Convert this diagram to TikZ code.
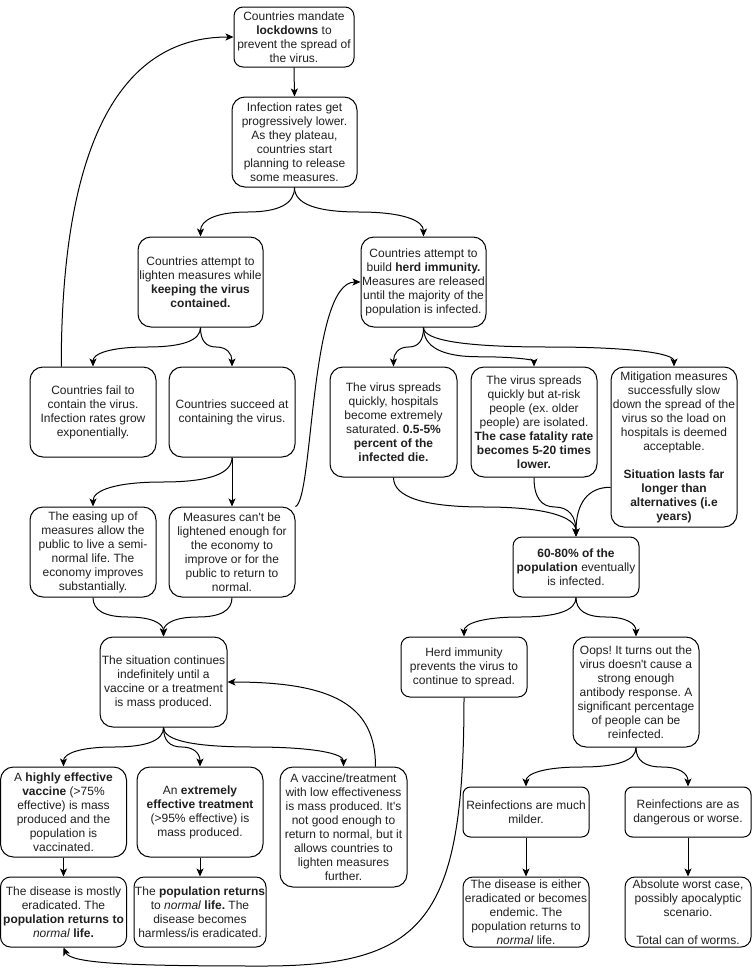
\documentclass[tikz,border=0pt]{standalone}
\usepackage{fontspec}
\setmainfont{Liberation Sans}[Ligatures=TeXOff]
\usetikzlibrary{arrows.meta,calc}
\frenchspacing
\begin{document}
\begin{tikzpicture}[x=1pt,y=-1pt,
  every node/.style={font=\fontsize{12}{14}\selectfont, text=black!88},
  box/.style n args={3}{draw=black, line width=1pt, rounded corners=#3pt,
    minimum width=#1pt, minimum height=#2pt, inner sep=0pt, align=center},
  conn/.style={draw=black, line width=1pt, -{Stealth[length=8pt,width=7pt,inset=2pt]}},
  curvy/.style={to path={let \p1=(\tikztostart), \p2=(\tikztotarget) in
      .. controls (\x1,{\y1+(\y2-\y1)*#1*2/3}) and ({\x1*5/6+\x2/6},{\y1+(\y2-\y1)*#1}) ..
      ({(\x1+\x2)/2},{\y1+(\y2-\y1)*#1})
      .. controls ({\x1/6+\x2*5/6},{\y1+(\y2-\y1)*#1}) and (\x2,{\y2+(\y1+(\y2-\y1)*#1-\y2)*2/3}) .. (\tikztotarget) \tikztonodes}},
  curvy/.default=0.5]
\useasboundingbox (0,0) rectangle (752,969);

% nodes
\node[box={120}{60}{9}] (A) at (294,37) {Countries mandate\\\textbf{lockdowns} to\\prevent the spread of\\the virus.};
\node[box={125}{90}{13}] (B) at (294.5,142) {Infection rates get\\progressively lower.\\As they plateau,\\countries start\\planning to release\\some measures.};
\node[box={125}{90}{13}] (C) at (200.5,282) {Countries attempt to\\lighten measures while\\\textbf{keeping the virus}\\\textbf{contained.}};
\node[box={125}{90}{13}] (D) at (423.5,282) {Countries attempt to\\build \textbf{herd immunity.}\\Measures are released\\until the majority of the\\population is infected.};
\node[box={126}{90}{13}] (E) at (93,412) {Countries fail to\\contain the virus.\\Infection rates grow\\exponentially.};
\node[box={126}{90}{13}] (F) at (232,412) {Countries succeed at\\containing the virus.};
\node[box={126}{90}{13}] (G) at (93,552) {The easing up of\\measures allow the\\public to live a semi-\\normal life. The\\economy improves\\substantially.};
\node[box={126}{90}{13}] (H) at (232,552) {Measures can't be\\lightened enough for\\the economy to\\improve or for the\\public to return to\\normal.};
\node[box={127}{110}{13}] (I) at (393.5,422) {The virus spreads\\quickly, hospitals\\become extremely\\saturated. \textbf{0.5-5\%}\\\textbf{percent of the}\\\textbf{infected die.}};
\node[box={126}{110}{13}] (J) at (534,422) {The virus spreads\\quickly but at-risk\\people (ex. older\\people) are isolated.\\\textbf{The case fatality rate}\\\textbf{becomes 5-20 times}\\\textbf{lower.}};
\node[box={126}{160}{13}] (K) at (674,447) {Mitigation measures\\successfully slow\\down the spread of the\\virus so the load on\\hospitals is deemed\\acceptable.\\[14pt]\textbf{Situation lasts far}\\\textbf{longer than}\\\textbf{alternatives (i.e}\\\textbf{years)}};
\node[box={126}{60}{9}] (L) at (576,567) {\textbf{60-80\% of the}\\\textbf{population} eventually\\is infected.};
\node[box={127}{90}{13}] (M) at (163.5,682) {The situation continues\\indefinitely until a\\vaccine or a treatment\\is mass produced.};
\node[box={126}{90}{13}] (N) at (63.5,812) {A \textbf{highly effective}\\\textbf{vaccine} (>75\%\\effective) is mass\\produced and the\\population is\\vaccinated.};
\node[box={126}{90}{13}] (O) at (200,812) {An \textbf{extremely}\\\textbf{effective treatment}\\(>95\% effective) is\\mass produced.};
\node[box={127}{120}{13}] (P) at (343.5,827) {A vaccine/treatment\\with low effectiveness\\is mass produced. It's\\not good enough to\\return to normal, but it\\allows countries to\\lighten measures\\further.};
\node[box={126}{70}{10}] (Q) at (63.5,912) {The disease is mostly\\eradicated. The\\\textbf{population returns to}\\\textit{normal} \textbf{life.}};
\node[box={132}{70}{10}] (R) at (200,912) {The \textbf{population returns}\\to \textit{normal} \textbf{life.} The\\disease becomes\\harmless/is eradicated.};
\node[box={126}{60}{9}] (S) at (464,667) {Herd immunity\\prevents the virus to\\continue to spread.};
\node[box={126}{110}{13}] (T) at (636,692) {Oops! It turns out the\\virus doesn't cause a\\strong enough\\antibody response. A\\significant percentage\\of people can be\\reinfected.};
\node[box={126}{50}{7.5}] (U) at (526,812) {Reinfections are much\\milder.};
\node[box={126}{50}{7.5}] (V) at (688,812) {Reinfections are as\\dangerous or worse.};
\node[box={126}{70}{10}] (W) at (526,912) {The disease is either\\eradicated or becomes\\endemic. The\\population returns to\\\textit{normal} life.};
\node[box={126}{70}{10}] (X) at (688,912) {Absolute worst case,\\possibly apocalyptic\\scenario.\\[14pt]Total can of worms.};

% connectors
\draw[conn] (A.south) -- (B.north);
\draw[conn] (B.south) to[curvy] (C.north);
\draw[conn] (B.south) to[curvy] (D.north);
\draw[conn] (C.south) to[curvy] (E.north);
\draw[conn] (C.south) to[curvy] (F.north);
\draw[conn] (F.south) to[curvy] (G.north);
\draw[conn] (F.south) -- (H.north);
\draw[conn] (G.south) to[curvy] (M.north);
\draw[conn] (H.south) to[curvy] (M.north);
\draw[conn] (M.south) to[curvy] (N.north);
\draw[conn] (M.south) to[curvy] (O.north);
\draw[conn] (M.south) to[curvy] (P.north);
\draw[conn] (N.south) -- (Q.north);
\draw[conn] (O.south) -- (R.north);
\draw[conn] (D.south) to[curvy] (I.north);
\draw[conn] (D.south) to[curvy=0.75] (J.north);
\draw[conn] (D.south) to[curvy] (K.north);
\draw[conn] (I.south) to[curvy] (L.north);
\draw[conn] (J.south) to[curvy] (L.north);
\draw[conn] (L.south) to[curvy] (S.north);
\draw[conn] (L.south) to[curvy] (T.north);
\draw[conn] (T.south) to[curvy] (U.north);
\draw[conn] (T.south) to[curvy] (V.north);
\draw[conn] (U.south) -- (W.north);
\draw[conn] (V.south) -- (X.north);

% E -> A (loop back)
\coordinate (Etop) at ($(E.north west)!0.25!(E.north east)$);
\coordinate (EAc) at (Etop |- A.west);
\draw[conn] (Etop) .. controls ($(Etop)!0.6667!(EAc)$) and ($(A.west)!0.6667!(EAc)$) .. (A.west);

% H -> D
\draw[conn] (H.north east) .. controls ($(H.north east)+(18,-7)$) and ($(D.west)+(-51,0)$) .. (D.west);

% K -> L
\coordinate (Kout) at ($(K.south west)!0.25!(K.north west)$);
\coordinate (KLc) at (Kout -| L.north);
\draw[conn] (Kout) .. controls ($(Kout)!0.6667!(KLc)$) and ($(L.north)!0.6667!(KLc)$) .. (L.north);

% P -> M
\coordinate (Ptop) at ($(P.north west)!0.75!(P.north east)$);
\coordinate (PMc) at (Ptop |- M.east);
\draw[conn] (Ptop) .. controls ($(Ptop)!0.72!(PMc)$) and ($(M.east)!0.72!(PMc)$) .. (M.east);

% S -> Q
\coordinate (SQm) at (260,966);
\draw[conn] (S.south) .. controls ($(S.south)+(0,223)$) and ($(S.south)+(-39,269)$) .. (SQm)
  .. controls ($(SQm)+(-130,0)$) and ($(Q.south)+(7,16)$) .. (Q.south);
\end{tikzpicture}
\end{document}
